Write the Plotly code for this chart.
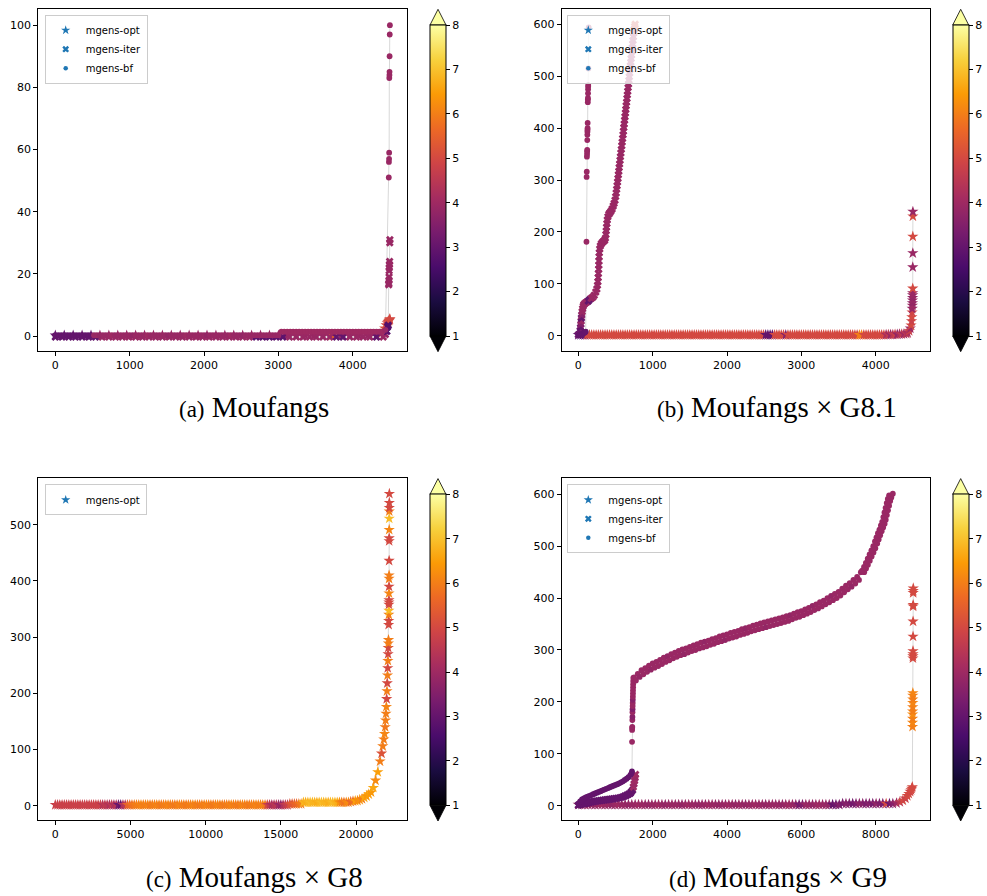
import plotly.graph_objects as go

W, H = 987, 896

# ---------------- data ----------------
series_names = ["mgens-opt", "mgens-iter", "mgens-bf"]
cbar_ticks = [1, 2, 3, 4, 5, 6, 7, 8]

# (a) Moufangs
a_opt_x = [0, 120, 240, 360, 480, 600, 720, 840, 960, 1080, 1200, 1320, 1440, 1560, 1680, 1800, 1920, 2040,
           2160, 2280, 2400, 2520, 2640, 2760, 2880, 3000, 3120, 3240, 3360, 3480, 3600, 3720, 3840, 3960,
           4080, 4200, 4320, 4380, 4410, 4430, 4450, 4465, 4475, 4485, 4492, 4497, 4500]
a_opt_y = [0.2, 0.2, 0.2, 0.2, 0.2, 0.2, 0.2, 0.2, 0.2, 0.2,
           0.2, 0.2, 0.2, 0.2, 0.2, 0.2, 0.2, 0.2, 0.2, 0.2,
           0.2, 0.2, 0.2, 0.2, 0.2, 0.2, 0.2, 0.2, 0.2, 0.2,
           0.2, 0.2, 0.2, 0.2, 0.2, 0.2, 0.2,
           0.8, 1.5, 2.5, 3.5, 4.2, 4.6, 4.9, 5.1, 5.3, 5.5]
a_opt_c = [3.0, 3.0, 3.0, 3.0, 3.0,
           3.9, 3.9, 3.9, 3.9, 3.9, 3.9, 3.9, 3.9, 3.9, 3.9,
           3.9, 3.9, 3.9, 3.9, 3.9, 3.9, 3.9, 3.9, 3.9, 3.9,
           3.9, 3.9, 3.9, 3.9, 3.9, 3.9,
           5.6,
           3.9, 3.9, 3.9, 3.9, 3.9,
           5.0, 5.0, 5.1, 5.0, 4.9, 5.0, 5.1, 5.0, 5.0, 5.0]

a_iter_x = [0, 90, 180, 270, 360, 450, 540, 630, 720, 810, 900, 990, 1080, 1170, 1260, 1350, 1440, 1530,
            1620, 1710, 1800, 1890, 1980, 2070, 2160, 2250, 2340, 2430, 2520, 2610, 2700, 2790, 2880, 2970,
            3060, 3150, 3240, 3330, 3420, 3510, 3600, 3690, 3780, 3870, 3960, 4050, 4140, 4230, 4320, 4410,
            4440, 4460, 4470, 4478, 4484, 4486, 4488, 4489, 4490, 4492, 4494, 4496, 4498, 4500]
a_iter_y = [-0.3, -0.3, -0.3, -0.3, -0.3, -0.3, -0.3, -0.3, -0.3, -0.3,
            -0.3, -0.3, -0.3, -0.3, -0.3, -0.3, -0.3, -0.3, -0.3, -0.3,
            -0.3, -0.3, -0.3, -0.3, -0.3, -0.3, -0.3, -0.3, -0.3, -0.3,
            -0.3, -0.3, -0.3, -0.3, -0.3, -0.3, -0.3, -0.3, -0.3, -0.3,
            -0.3, -0.3, -0.3, -0.3, -0.3, -0.3, -0.3, -0.3, -0.3, -0.3,
            0.5, 1.5, 3.0, 3.5, 16.5, 17, 18, 19, 21, 22, 23, 24, 30, 31]
a_iter_c = [3.0, 3.0, 3.0, 3.0, 3.0, 3.0, 3.0,
            3.9, 3.9, 3.9, 3.9, 3.9, 3.9, 3.9, 3.9, 3.9, 3.9,
            3.9, 3.9, 3.9, 3.9, 3.9, 3.9, 3.9, 3.9, 3.9, 3.9,
            3.9, 3.9, 3.9,
            2.9, 2.9, 2.9, 2.9, 2.9,
            3.9, 3.9, 3.9, 3.9, 3.9, 3.9, 3.9, 3.0, 3.0, 3.9, 3.9, 3.9, 3.9, 3.0, 3.9,
            3.9, 2.8, 2.7, 2.7, 3.9, 3.9, 3.9, 3.9, 3.9, 3.9, 3.9, 3.9, 3.9, 3.9]

a_bf_x = [0, 40, 80, 120, 160, 200, 240, 280, 320, 360, 400, 440, 480, 520, 560, 600, 640, 680, 720, 760,
          800, 840, 880, 920, 960, 1000, 1040, 1080, 1120, 1160, 1200, 1240, 1280, 1320, 1360, 1400, 1440,
          1480, 1520, 1560, 1600, 1640, 1680, 1720, 1760, 1800, 1840, 1880, 1920, 1960, 2000, 2040, 2080,
          2120, 2160, 2200, 2240, 2280, 2320, 2360, 2400, 2440, 2480, 2520, 2560, 2600, 2640, 2680, 2720,
          2760, 2800, 2840, 2880, 2920, 2960, 3000,
          3040, 3080, 3120, 3160, 3200, 3240, 3280, 3320, 3360, 3400, 3440, 3480, 3520, 3560, 3600, 3640,
          3680, 3720, 3760, 3800, 3840, 3880, 3920, 3960, 4000, 4040, 4080, 4120, 4160, 4200, 4240, 4280,
          4320, 4360, 4400, 4440,
          4485, 4487, 4489, 4490, 4492, 4494, 4495, 4496, 4498, 4500]
a_bf_y = [0.3, 0.3, 0.3, 0.3, 0.3, 0.3, 0.3, 0.3, 0.3, 0.3,
          0.3, 0.3, 0.3, 0.3, 0.3, 0.3, 0.3, 0.3, 0.3, 0.3,
          0.3, 0.3, 0.3, 0.3, 0.3, 0.3, 0.3, 0.3, 0.3, 0.3,
          0.3, 0.3, 0.3, 0.3, 0.3, 0.3, 0.3, 0.3, 0.3, 0.3,
          0.3, 0.3, 0.3, 0.3, 0.3, 0.3, 0.3, 0.3, 0.3, 0.3,
          0.3, 0.3, 0.3, 0.3, 0.3, 0.3, 0.3, 0.3, 0.3, 0.3,
          0.3, 0.3, 0.3, 0.3, 0.3, 0.3, 0.3, 0.3, 0.3, 0.3,
          0.3, 0.3, 0.3, 0.3, 0.3, 0.3,
          1.4, 1.4, 1.4, 1.4, 1.4, 1.4, 1.4, 1.4, 1.4, 1.4,
          1.4, 1.4, 1.4, 1.4, 1.4, 1.4, 1.4, 1.4, 1.4, 1.4,
          1.4, 1.4, 1.4, 1.4, 1.4, 1.4, 1.4, 1.4, 1.4, 1.4,
          1.4, 1.4, 1.4, 1.4, 1.4, 2.0,
          51, 56, 57, 59, 83, 84, 85, 90, 97, 100]
a_bf_c = [3.0, 3.0, 3.0, 3.0, 3.0, 3.0, 3.0, 3.0, 3.0, 3.0, 3.0, 3.0, 3.0,
          3.9, 3.9, 3.8, 3.9, 3.9, 3.9, 4.0, 3.9, 3.9, 3.9,
          3.9, 3.9, 3.9, 3.8, 3.9, 3.9, 3.9, 3.9, 4.0, 3.9,
          3.9, 3.9, 3.9, 3.9, 3.9, 3.8, 3.9, 3.9, 3.9, 3.9,
          3.9, 4.0, 3.9, 3.9, 3.9, 3.9, 3.9, 3.9, 3.8, 3.9,
          3.9, 3.9, 3.9, 3.9, 3.9, 3.9, 4.0, 3.9, 3.9, 3.9,
          3.8, 3.9, 3.9, 3.9, 3.9, 3.9, 3.9, 3.9, 3.9, 3.9,
          3.9, 3.9, 3.9,
          4.0, 4.0, 4.0, 4.0, 4.0, 4.0, 4.0, 4.0, 4.0, 4.0,
          4.0, 4.0, 4.0, 4.0, 4.0, 4.0, 4.0, 4.0, 4.0, 4.0,
          4.0, 4.0, 4.0, 4.0, 4.0, 4.0, 4.0, 4.0, 4.0, 4.0,
          4.0, 4.0, 4.0, 4.0, 4.0, 3.9,
          3.9, 3.9, 3.9, 3.9, 3.9, 3.9, 3.9, 3.9, 3.9, 3.9]

# (b) Moufangs x G8.1
b_opt_x = [0, 30, 60, 90, 120, 150, 180, 210, 240, 270,
           300, 330, 360, 390, 420, 450, 480, 510, 540, 570,
           600, 630, 660, 690, 720, 750, 780, 810, 840, 870,
           900, 930, 960, 990, 1020, 1050, 1080, 1110, 1140, 1170,
           1200, 1230, 1260, 1290, 1320, 1350, 1380, 1410, 1440, 1470,
           1500, 1530, 1560, 1590, 1620, 1650, 1680, 1710, 1740, 1770,
           1800, 1830, 1860, 1890, 1920, 1950, 1980, 2010, 2040, 2070,
           2100, 2130, 2160, 2190, 2220, 2250, 2280, 2310, 2340, 2370,
           2400, 2430, 2460, 2490, 2520, 2550, 2580, 2610, 2640, 2670,
           2700, 2730, 2760, 2790, 2820, 2850, 2880, 2910, 2940, 2970,
           3000, 3030, 3060, 3090, 3120, 3150, 3180, 3210, 3240, 3270,
           3300, 3330, 3360, 3390, 3420, 3450, 3480, 3510, 3540, 3570,
           3600, 3630, 3660, 3690, 3720, 3750, 3780, 3810, 3840, 3870,
           3900, 3930, 3960, 3990, 4020, 4050, 4080, 4110, 4140, 4170,
           4200, 4230, 4260, 4290, 4320, 4350, 4380, 4410,
           4430, 4450, 4465, 4475, 4482, 4486, 4489, 4491, 4493, 4494, 4495, 4496, 4497, 4497, 4498, 4498,
           4499, 4499, 4500, 4500]
b_opt_y = [1.5, 1.5, 1.5, 1.5, 1.5, 1.5, 1.5, 1.5, 1.5, 1.5,
           1.5, 1.5, 1.5, 1.5, 1.5, 1.5, 1.5, 1.5, 1.5, 1.5,
           1.5, 1.5, 1.5, 1.5, 1.5, 1.5, 1.5, 1.5, 1.5, 1.5,
           1.5, 1.5, 1.5, 1.5, 1.5, 1.5, 1.5, 1.5, 1.5, 1.5,
           1.5, 1.5, 1.5, 1.5, 1.5, 1.5, 1.5, 1.5, 1.5, 1.5,
           1.5, 1.5, 1.5, 1.5, 1.5, 1.5, 1.5, 1.5, 1.5, 1.5,
           1.5, 1.5, 1.5, 1.5, 1.5, 1.5, 1.5, 1.5, 1.5, 1.5,
           1.5, 1.5, 1.5, 1.5, 1.5, 1.5, 1.5, 1.5, 1.5, 1.5,
           1.5, 1.5, 1.5, 1.5, 1.5, 1.5, 1.5, 1.5, 1.5, 1.5,
           1.5, 1.5, 1.5, 1.5, 1.5, 1.5, 1.5, 1.5, 1.5, 1.5,
           1.5, 1.5, 1.5, 1.5, 1.5, 1.5, 1.5, 1.5, 1.5, 1.5,
           1.5, 1.5, 1.5, 1.5, 1.5, 1.5, 1.5, 1.5, 1.5, 1.5,
           1.5, 1.5, 1.5, 1.5, 1.5, 1.5, 1.5, 1.5, 1.5, 1.5,
           1.5, 1.5, 1.5, 1.5, 1.5, 1.5, 1.5, 1.5, 2, 2,
           2, 2, 2.5, 2.5, 3, 3, 3.5, 4,
           5, 9, 14, 20, 28, 36, 45, 52, 58, 63, 68, 73, 78, 82, 91, 132, 159, 191, 230, 239]
b_opt_c = [3.0, 3.0, 3.0, 3.0, 5.0, 5.0, 5.0, 5.0, 5.0, 5.0,
           5.0, 5.0, 5.0, 5.0, 5.0, 5.0, 5.0, 5.0, 5.0, 5.0,
           5.0, 5.0, 5.0, 5.0, 5.0, 5.0, 5.0, 5.0, 5.0, 5.0,
           5.0, 5.0, 5.0, 5.0, 5.0, 5.0, 5.0, 5.0, 5.0, 5.0,
           5.0, 5.0, 5.0, 5.0, 5.0, 5.0, 5.0, 5.0, 5.0, 5.0,
           5.0, 5.0, 5.0, 5.0, 5.0, 5.0, 5.0, 5.0, 5.0, 5.0,
           5.0, 5.0, 5.0, 5.0, 5.0, 5.0, 5.0, 5.0, 5.0, 5.0,
           5.0, 5.0, 5.0, 5.0, 5.0, 5.0, 5.0, 5.0, 5.0, 5.0,
           5.0, 5.0, 5.0, 5.0, 3.0, 3.0, 3.0, 3.0, 5.0, 5.0,
           5.0, 5.0, 5.0, 3.6, 5.0, 5.0, 5.0, 5.0, 5.0, 5.0,
           5.0, 5.0, 5.0, 5.0, 5.0, 5.0, 5.0, 5.0, 5.0, 5.0,
           5.0, 5.0, 5.0, 5.0, 5.0, 5.0, 5.0, 5.0, 5.0, 5.0,
           5.0, 5.0, 5.0, 5.0, 5.0, 5.0, 6.0, 6.0, 5.0, 5.0,
           5.0, 5.0, 5.0, 5.0, 5.0, 5.0, 5.0, 5.0, 4.2, 4.6,
           3.9, 4.5, 4.8, 3.8, 4.2, 4.6, 4.0, 4.5,
           4.2, 4.8, 4.0, 5.0, 4.8, 5.0, 4.9, 3.9, 4.0, 3.8, 3.9, 3.8, 3.9, 3.9, 5.0, 3.9, 3.9, 5.0, 5.0, 3.9]

b_iter_x = [0, 20, 25, 30, 35, 38, 42, 46, 52, 58, 66, 75, 95, 115, 135, 155, 175, 195, 215, 235, 250,
            258, 264, 268, 271, 274, 276, 278, 280, 283, 288, 297, 310, 325, 340, 355, 365, 372, 376, 380,
            385, 390, 398, 410, 425, 440, 455, 470, 482, 494, 503, 510, 516, 522, 528, 534, 539, 545, 550,
            556, 562, 567, 573, 579, 585, 590, 596, 602, 607, 612, 618, 623, 628, 634, 639, 644, 650, 655,
            660, 665, 670, 676, 681, 686, 691, 696, 701, 706, 711, 716, 721, 726, 731, 736, 741, 746, 751,
            757, 765]
b_iter_y = [2, 4, 10, 16, 22, 28, 34, 40, 46, 52, 57, 60, 63, 65, 67, 70, 72, 74, 78, 84, 90, 97, 104,
            112, 120, 128, 136, 144, 152, 160, 167, 173, 177, 180, 182, 184, 188, 195, 202, 209, 216, 223,
            229, 234, 237, 240, 244, 250, 255, 261, 268, 275, 282, 289, 296, 303, 310, 317, 324, 331, 338,
            345, 352, 359, 366, 373, 380, 387, 394, 401, 408, 415, 422, 429, 436, 443, 450, 457, 464, 471,
            478, 485, 492, 499, 506, 513, 520, 527, 534, 541, 548, 555, 562, 569, 576, 583, 590, 596, 600]
b_iter_c = [3.2, 3.0, 3.3, 3.0, 3.5, 3.9, 3.0, 3.6, 3.9, 3.9, 3.9,
            3.9, 3.9, 3.9,
            3.0, 3.0,
            3.9, 3.9, 3.9, 3.9, 3.9, 3.9, 3.9, 3.9, 3.9, 3.9,
            3.9, 3.9, 3.9, 3.9, 3.9, 3.9, 3.9, 3.9, 3.9, 3.9,
            3.9, 3.9, 3.9, 3.9, 3.9, 3.9, 3.9, 3.9, 3.9, 3.9,
            3.9, 3.9, 3.9, 3.9, 3.9, 3.9, 3.9, 3.9, 3.9, 3.9,
            3.9, 3.9, 3.9, 3.9, 3.9, 3.9, 3.9, 3.9, 3.9, 3.9,
            3.9, 3.9, 3.9, 3.9, 3.9, 3.9, 3.9, 3.9, 3.9, 3.9,
            3.9, 3.9, 3.9, 3.9, 3.9, 3.9, 3.9, 3.9, 3.9, 3.9,
            3.9, 3.9, 3.9, 3.9, 3.9, 3.9, 3.9, 3.9, 3.9, 3.9,
            3.9,
            5.0, 5.0]

b_bf_x = [0, 15, 30, 45, 60, 75, 90, 100, 110, 112, 114, 116, 118, 119, 120, 121, 122, 123, 124, 125,
          126, 128, 129, 130, 131, 132, 133, 134, 136, 140]
b_bf_y = [1, 2, 3, 3, 4, 5, 6, 8, 181, 306, 316, 345, 350, 355, 358, 377, 387, 393, 397, 400, 410, 450,
          455, 458, 467, 475, 480, 483, 515, 594]
b_bf_c = [3.0, 3.0, 3.0, 3.0, 3.0, 3.0, 3.0, 3.0,
          3.9, 3.9, 3.9, 3.9, 3.9, 3.9, 3.9, 3.9, 3.9, 3.9, 3.9,
          3.9, 3.9, 3.9, 3.9, 3.9, 3.9, 3.9, 3.9, 3.9, 3.9, 3.9]

# (c) Moufangs x G8
c_opt_x = [0, 150, 300, 450, 600, 750, 900, 1050, 1200, 1350,
           1500, 1650, 1800, 1950, 2100, 2250, 2400, 2550, 2700, 2850,
           3000, 3150, 3300, 3450, 3600, 3750, 3900, 4050, 4200, 4350,
           4500, 4650, 4800, 4950, 5100, 5250, 5400, 5550, 5700, 5850,
           6000, 6150, 6300, 6450, 6600, 6750, 6900, 7050, 7200, 7350,
           7500, 7650, 7800, 7950, 8100, 8250, 8400, 8550, 8700, 8850,
           9000, 9150, 9300, 9450, 9600, 9750, 9900, 10050, 10200, 10350,
           10500, 10650, 10800, 10950, 11100, 11250, 11400, 11550, 11700, 11850,
           12000, 12150, 12300, 12450, 12600, 12750, 12900, 13050, 13200, 13350,
           13500, 13650, 13800, 13950, 14100, 14250, 14400, 14550, 14700, 14850,
           15000, 15150, 15300, 15450, 15600, 15750, 15900, 16050, 16200, 16350,
           16500, 16650, 16800, 16950, 17100, 17250, 17400, 17550, 17700, 17850,
           18000, 18150, 18300, 18450, 18600, 18750, 18900, 19050, 19200, 19350,
           19500, 19650, 19800, 19950, 20100, 20250, 20400, 20550, 20700, 20850,
           21000,
           21150, 21300, 21450, 21600, 21700, 21780, 21850, 21900, 21940, 21970, 21995, 22020, 22040,
           22060, 22078, 22095, 22110, 22122, 22134, 22145, 22155, 22162,
           22170, 22175, 22180, 22185, 22188, 22190, 22192, 22195, 22197, 22199, 22201, 22203, 22205,
           22207, 22209, 22211, 22213, 22215, 22217, 22219]
c_opt_y = [1.5, 1.5, 1.5, 1.5, 1.5, 1.5, 1.5, 1.5, 1.5, 1.5,
           1.5, 1.5, 1.5, 1.5, 1.5, 1.5, 1.5, 1.5, 1.5, 1.5,
           1.5, 1.5, 1.5, 1.5, 1.5, 1.5, 1.5, 1.5, 1.5, 1.5,
           1.5, 1.5, 1.5, 1.5, 1.5, 1.5, 1.5, 1.5, 1.5, 1.5,
           1.5, 1.5, 1.5, 1.5, 1.5, 1.5, 1.5, 1.5, 1.5, 1.5,
           1.5, 1.5, 1.5, 1.5, 1.5, 1.5, 1.5, 1.5, 1.5, 1.5,
           1.5, 1.5, 1.5, 1.5, 1.5, 1.5, 1.5, 1.5, 1.5, 1.5,
           1.5, 1.5, 1.5, 1.5, 1.5, 1.5, 1.5, 1.5, 1.5, 1.5,
           1.5, 1.5, 1.5, 1.5, 1.5, 1.5, 1.5, 1.5, 1.5, 1.5,
           1.5, 1.5, 1.5, 1.5, 1.5, 1.5, 1.5, 1.5, 1.5, 1.5,
           1.5, 1.5, 1.5, 1.5, 3, 3, 3, 3, 3, 3,
           6, 6, 6, 6, 6, 6, 6, 6, 6, 6,
           6, 6, 6, 6, 6, 6, 6, 6, 6, 6,
           6, 7, 8, 8.5, 9, 10.5, 12, 14.5, 17, 20.5,
           24,
           32, 45, 60, 79, 93, 106, 118, 128, 140, 152, 164, 176, 190, 204, 218, 232, 245, 258, 270, 281,
           289, 295,
           322, 329, 340, 347, 358, 362, 366, 378, 390, 404, 410, 436, 471, 476, 491, 511, 524, 530, 539,
           555]
c_opt_c = [4.8, 4.8, 4.8, 4.8, 4.8, 4.8, 4.8, 4.8, 4.8, 4.8,
           4.8, 4.8, 4.8, 4.8, 4.8, 4.8, 4.8, 4.8, 4.8, 4.8,
           4.8, 4.4, 4.6, 4.5, 4.3, 4.6, 4.2, 4.4, 3.2, 3.0,
           4.3, 4.5, 5.5, 5.6, 5.8, 5.9, 6.0, 6.0, 6.1, 6.0,
           6.0, 6.1, 5.9, 6.0, 6.0, 6.1, 6.0, 5.9, 6.0, 6.0,
           6.1, 6.0, 6.0, 5.9, 6.0, 6.1, 6.0, 6.0, 5.9, 6.0,
           6.0, 6.1, 6.0, 6.0, 5.9, 6.0, 6.0, 6.1, 6.0, 6.0,
           5.9, 6.0, 6.1, 6.0, 6.0, 5.9, 6.0, 6.0, 6.1, 6.0,
           6.0, 5.9, 6.0, 6.1, 6.0, 6.0, 5.9, 6.0, 6.0, 6.1,
           6.0, 6.0, 6.1, 5.9, 5.0, 4.6, 4.2, 4.4, 4.5, 4.0,
           3.8, 4.3, 4.6, 4.8, 5.2, 5.3, 5.5, 5.6, 5.8, 6.0,
           6.8, 6.7, 6.8, 6.9, 6.8, 6.8, 6.7, 6.8, 6.9, 6.8,
           6.8, 6.7, 6.8, 6.9, 6.8, 6.7, 6.3, 6.0, 5.8, 6.1,
           6.2, 5.6, 5.8, 6.5, 6.2, 6.3, 6.0, 6.6, 6.4, 6.5,
           6.4,
           6.6, 6.2, 6.5, 6.0, 5.2, 6.0, 6.0, 6.1, 5.9, 6.0, 6.0, 6.1, 5.0, 6.0, 5.0, 6.0, 5.0, 6.0, 5.0,
           5.0, 6.0, 6.0,
           5.0, 5.0, 6.0, 6.9, 5.0, 5.0, 5.0, 6.1, 5.0, 6.0, 6.0, 5.0, 5.0, 5.0, 6.1, 6.9, 6.0, 5.0, 5.0,
           5.0]

# (d) Moufangs x G9
d_opt_x = [0, 90, 180, 270, 360, 450, 540, 630, 720, 810,
           900, 990, 1080, 1170, 1260, 1350, 1440, 1530, 1620, 1710,
           1800, 1890, 1980, 2070, 2160, 2250, 2340, 2430, 2520, 2610,
           2700, 2790, 2880, 2970, 3060, 3150, 3240, 3330, 3420, 3510,
           3600, 3690, 3780, 3870, 3960, 4050, 4140, 4230, 4320, 4410,
           4500, 4590, 4680, 4770, 4860, 4950, 5040, 5130, 5220, 5310,
           5400, 5490, 5580, 5670, 5760, 5850, 5940, 6030, 6120, 6210,
           6300, 6390, 6480, 6570, 6660, 6750, 6840, 6930, 7020, 7110,
           7200, 7290, 7380, 7470, 7560, 7650, 7740, 7830, 7920, 8010,
           8100, 8190, 8280, 8370, 8460,
           8560, 8650, 8730, 8800, 8850, 8890, 8925, 8950, 8970, 8985,
           8990, 8991, 8992, 8993, 8994, 8995, 8996, 8997, 8998, 8999, 9000, 9001, 9002, 9003, 9004,
           9005, 9006, 9007, 9008, 9009, 9010]
d_opt_y = [2, 2, 2, 2, 2, 2, 2, 2, 2, 2,
           2, 2, 2, 2, 2, 2, 2, 2, 2, 2,
           2, 2, 2, 2, 2, 2, 2, 2, 2, 2,
           2, 2, 2, 2, 2, 2, 2, 2, 2, 2,
           2, 2, 2, 2, 2, 2, 2, 2, 2, 2,
           2, 2, 2, 2, 2, 2, 2, 2, 2, 2,
           2, 2, 2, 2, 2, 2, 2, 2, 2, 2,
           2, 2, 2, 2, 2, 2, 2, 2, 2, 4,
           4, 4, 4, 4, 4, 4, 4, 4, 4, 4,
           4, 4, 4, 4, 4,
           5, 7, 10, 14, 19, 23, 27, 30, 33, 36,
           152, 160, 168, 176, 182, 190, 198, 205, 212, 217, 284, 288, 292, 298, 326, 355, 384, 387, 410,
           414, 419]
d_opt_c = [3.9, 3.8, 4.0, 3.9, 3.9, 3.8, 3.9, 4.0, 3.9, 3.9,
           3.8, 3.9, 4.0, 3.9, 3.9, 3.8, 3.9, 3.9, 4.0, 3.9,
           3.9, 3.8, 3.9, 3.9, 4.0, 3.9, 3.8, 3.9, 3.9, 3.9,
           3.9, 3.8, 3.9, 4.0, 3.9, 3.9, 3.8, 3.9, 3.9, 4.0,
           3.9, 3.9, 3.8, 3.9, 3.9, 4.0, 3.9, 3.8, 3.9, 3.9,
           3.8, 3.9, 3.9, 4.0, 3.9, 3.9, 3.8, 3.9, 3.9, 3.9,
           3.9, 3.8, 3.9, 4.0, 3.9, 3.8, 3.3, 3.5, 3.9, 3.9,
           3.8, 3.9, 4.0, 3.9, 3.9, 3.8, 3.0, 3.2, 3.5, 3.3,
           3.6, 3.5, 3.2, 3.4, 3.7, 3.6, 3.4, 3.6, 3.3, 3.8,
           3.5, 3.4, 5.0, 3.2, 3.6,
           4.0, 4.5, 5.0, 4.8, 5.0, 5.0, 4.9, 5.0, 5.0, 5.0,
           6.0, 6.1, 6.0, 6.2, 6.0, 6.0, 6.1, 6.0, 6.0, 6.1, 5.0, 5.0, 5.0, 5.0, 5.0, 5.0, 5.0, 5.0, 5.0,
           5.0, 5.0]

d_iter_x = [0, 50, 100, 150, 200, 250, 300, 350, 400, 450, 500, 550, 600, 650, 700, 750, 800, 850, 900,
            950, 1000, 1050, 1100, 1150, 1200, 1250, 1300, 1350, 1400, 1430, 1462,
            1480, 1500, 1515, 1530, 1540]
d_iter_y = [1, 2, 3, 3.5, 4, 5, 6, 7, 8, 8.5, 9, 9.5, 10, 10.5, 11, 11.5, 12, 12.5, 13,
            13.5, 14, 14.5, 15, 16, 17, 18.5, 20, 22, 24, 27, 30,
            36, 42, 48, 54, 60]
d_iter_c = [3.0, 3.0, 3.0, 3.0, 3.0, 3.0, 3.0, 3.0, 3.0, 3.0, 3.0, 3.0, 3.0, 3.0, 3.0, 3.0, 3.0, 3.0, 3.0,
            3.0, 3.0, 3.0, 3.0, 3.0, 3.0, 3.0, 3.0, 3.0, 3.0, 3.0, 3.0,
            4.0, 3.9, 4.0, 3.9, 4.0]

d_bf_x = [0, 50, 100, 150, 200, 250, 300, 350, 400, 450, 500, 550, 600, 650, 700, 750, 800, 850, 900,
          950, 1000, 1050, 1100, 1150, 1200, 1250, 1300, 1350, 1400, 1430, 1444,
          1446, 1448, 1450, 1452, 1454, 1456, 1458, 1460, 1462, 1464, 1466, 1468, 1470, 1472, 1474, 1476,
          1478, 1480,
          1500, 1550, 1600, 1650, 1700, 1750, 1800, 1850, 1900, 1950,
          2000, 2050, 2100, 2150, 2200, 2250, 2300, 2350, 2400, 2450,
          2500, 2550, 2600, 2650, 2700, 2750, 2800, 2850, 2900, 2950,
          3000, 3050, 3100, 3150, 3200, 3250, 3300, 3350, 3400, 3450,
          3500, 3550, 3600, 3650, 3700, 3750, 3800, 3850, 3900, 3950,
          4000, 4050, 4100, 4150, 4200, 4250, 4300, 4350, 4400, 4450,
          4500, 4550, 4600, 4650, 4700, 4750, 4800, 4850, 4900, 4950,
          5000, 5050, 5100, 5150, 5200, 5250, 5300, 5350, 5400, 5450,
          5500, 5550, 5600, 5650, 5700, 5750, 5800, 5850, 5900, 5950,
          6000, 6050, 6100, 6150, 6200, 6250, 6300, 6350, 6400, 6450,
          6500, 6550, 6600, 6650, 6700, 6750, 6800, 6850, 6900, 6950,
          7000, 7050, 7100, 7150, 7200, 7250, 7300, 7350, 7400, 7450,
          7500, 7550, 7600,
          7690, 7635, 7740, 7685, 7790, 7735, 7840, 7785, 7890, 7835, 7940, 7885, 7990, 7935, 8040, 7980,
          8080, 8020, 8120, 8060, 8160, 8100, 8200, 8140, 8240, 8175, 8270, 8205, 8300, 8235, 8330, 8265,
          8360, 8295, 8390, 8325, 8420, 8360, 8460]
d_bf_y = [4, 8, 12, 14, 16, 17.5, 19, 20.5, 22, 23.5, 25, 26.5, 28, 29.5, 31, 32.5, 34, 35.5, 37,
          38.5, 40, 41.5, 43, 45, 47, 49.5, 52, 55, 59, 62, 66,
          123, 146, 150, 152, 165, 171, 180, 186, 192, 198, 204, 210, 216, 222, 228, 234, 240, 246,
          247, 241, 254, 248, 261, 253, 265, 258, 270, 262, 274, 266, 277, 269, 281, 273,
          285, 277, 288, 280, 292, 284, 295, 287, 298, 290, 301, 292, 303, 295, 306, 298,
          309, 300, 311, 303, 314, 305, 316, 307, 318, 310, 321, 312, 323, 315, 326, 317,
          328, 319, 330, 322, 333, 324, 335, 326, 337, 329, 340, 331, 342, 333, 344, 336,
          347, 338, 349, 340, 351, 342, 353, 344, 355, 346, 357, 348, 359, 350, 361, 352,
          363, 354, 365, 356, 367, 359, 370, 362, 373, 364, 375, 367, 378, 370, 381, 373,
          385, 377, 388, 380, 392, 384, 395, 388, 400, 392, 404, 396, 408, 400, 412, 405,
          418, 411, 424, 417, 429, 422, 435, 428, 441, 435, 450,
          450, 453, 457, 460, 464, 468, 472, 476, 480, 484, 488, 492, 496, 500, 505, 509,
          513, 517, 521, 525, 529, 532, 536, 540, 543, 547, 551, 556, 560, 565, 569, 574,
          578, 583, 587, 591, 594, 598, 601]
d_bf_c = [3.0, 3.0, 3.0, 3.0, 3.0, 3.0, 3.0, 3.0, 3.0, 3.0, 3.0, 3.0, 3.0, 3.0, 3.0, 3.0, 3.0, 3.0, 3.0,
          3.0, 3.0, 3.0, 3.0, 3.0, 3.0, 3.0, 3.0, 3.0, 3.0, 3.0, 3.0,
          3.9, 3.9, 3.9, 3.9, 3.9, 3.6, 3.9, 3.5, 3.9, 3.9, 3.6, 3.9, 3.9, 3.9, 3.9, 3.9, 3.9, 3.9,
          3.9, 3.9, 3.9, 3.8, 3.9, 3.9, 3.9, 3.9, 3.9, 3.8, 3.9, 3.9, 3.9, 3.9, 3.9, 3.9,
          3.9, 3.9, 3.8, 3.9, 3.9, 3.9, 3.9, 3.9, 3.9, 3.9, 3.9, 3.8, 3.9, 3.9, 3.9, 3.9,
          3.9, 3.9, 3.9, 3.9, 3.9, 3.9, 3.8, 3.9, 3.9, 3.9, 3.9, 3.9, 3.9, 3.9, 3.9, 3.9,
          3.9, 3.8, 3.9, 3.9, 3.9, 3.9, 3.9, 3.9, 3.9, 3.9, 3.9, 3.9, 3.8, 3.9, 3.9, 3.9,
          3.9, 3.9, 3.9, 3.9, 3.9, 3.9, 3.9, 3.8, 3.9, 3.9, 3.9, 3.9, 3.9, 3.9, 3.9, 3.9,
          3.9, 3.9, 3.9, 3.9, 3.8, 3.9, 3.9, 3.9, 3.9, 3.9, 3.9, 3.9, 3.9, 3.9, 3.9, 3.9,
          3.8, 3.9, 3.9, 3.9, 3.9, 3.9, 3.9, 3.9, 3.9, 3.9, 3.8, 3.9, 3.9, 3.9, 3.9, 3.9,
          3.9, 3.9, 3.9, 3.9, 3.9, 3.8, 3.9, 3.9, 3.9, 3.9, 3.9,
          3.9, 3.9, 3.9, 3.9, 3.9, 3.9, 3.9, 3.9, 3.9, 3.9, 3.9, 3.9, 3.9, 3.9, 3.9, 3.9,
          3.9, 3.9, 3.9, 3.9, 3.9, 3.9, 3.9, 3.9, 3.9, 3.9, 3.9, 3.9, 3.9, 3.9, 3.9, 3.9,
          3.9, 3.9, 3.9, 3.9, 3.9, 3.9, 3.9]

# ticks
a_xticks = [0, 1000, 2000, 3000, 4000]
a_xlabels = ["0", "1000", "2000", "3000", "4000"]
a_yticks = [0, 20, 40, 60, 80, 100]
b_yticks = [0, 100, 200, 300, 400, 500, 600]
c_xticks = [0, 5000, 10000, 15000, 20000]
c_xlabels = ["0", "5000", "10000", "15000", "20000"]
c_yticks = [0, 100, 200, 300, 400, 500]
d_xticks = [0, 2000, 4000, 6000, 8000]
d_xlabels = ["0", "2000", "4000", "6000", "8000"]

captions = [("(a)", "Moufangs"), ("(b)", "Moufangs × G8.1"),
            ("(c)", "Moufangs × G8"), ("(d)", "Moufangs × G9")]

for xs, ys, cs in [(a_opt_x, a_opt_y, a_opt_c), (a_iter_x, a_iter_y, a_iter_c), (a_bf_x, a_bf_y, a_bf_c),
                   (b_opt_x, b_opt_y, b_opt_c), (b_iter_x, b_iter_y, b_iter_c), (b_bf_x, b_bf_y, b_bf_c),
                   (c_opt_x, c_opt_y, c_opt_c), (d_opt_x, d_opt_y, d_opt_c), (d_iter_x, d_iter_y, d_iter_c),
                   (d_bf_x, d_bf_y, d_bf_c)]:
    assert len(xs) == len(ys) == len(cs), (len(xs), len(ys), len(cs))

# ---------------- figure ----------------
def PX(p):
    return p / W


def PY(p):
    return 1 - p / H


SYM = {"mgens-opt": ("star", 8.5), "mgens-iter": ("x", 7), "mgens-bf": ("circle", 5.8)}
LEG_SYM = {"mgens-opt": ("star", 7), "mgens-iter": ("x", 6), "mgens-bf": ("circle", 4.5)}
GRAY = "#d8d8d8"

panels = [
    dict(ax="", cax="coloraxis", leg="legend",
         series=[("mgens-opt", a_opt_x, a_opt_y, a_opt_c), ("mgens-iter", a_iter_x, a_iter_y, a_iter_c),
                 ("mgens-bf", a_bf_x, a_bf_y, a_bf_c)],
         legend_names=series_names),
    dict(ax="2", cax="coloraxis2", leg="legend2",
         series=[("mgens-opt", b_opt_x, b_opt_y, b_opt_c), ("mgens-iter", b_iter_x, b_iter_y, b_iter_c),
                 ("mgens-bf", b_bf_x, b_bf_y, b_bf_c)],
         legend_names=series_names),
    dict(ax="3", cax="coloraxis3", leg="legend3",
         series=[("mgens-opt", c_opt_x, c_opt_y, c_opt_c)],
         legend_names=series_names[:1]),
    dict(ax="4", cax="coloraxis4", leg="legend4",
         series=[("mgens-opt", d_opt_x, d_opt_y, d_opt_c), ("mgens-iter", d_iter_x, d_iter_y, d_iter_c),
                 ("mgens-bf", d_bf_x, d_bf_y, d_bf_c)],
         legend_names=series_names),
]

fig = go.Figure()
for p in panels:
    xa, ya = "x" + p["ax"], "y" + p["ax"]
    for name, xs, ys, cs in p["series"]:
        fig.add_trace(go.Scatter(x=xs, y=ys, mode="lines", line=dict(color=GRAY, width=1),
                                 xaxis=xa, yaxis=ya, showlegend=False, hoverinfo="skip"))
    for name, xs, ys, cs in p["series"]:
        sym, sz = SYM[name]
        fig.add_trace(go.Scatter(x=xs, y=ys, mode="markers", name=name,
                                 marker=dict(symbol=sym, size=sz, color=cs, coloraxis=p["cax"],
                                             line=dict(width=0)),
                                 xaxis=xa, yaxis=ya, showlegend=False))
    for name in p["legend_names"]:
        sym, sz = LEG_SYM[name]
        fig.add_trace(go.Scatter(x=[None], y=[None], mode="markers", name=name,
                                 marker=dict(symbol=sym, size=sz, color="#1f77b4", line=dict(width=0)),
                                 xaxis=xa, yaxis=ya, legend=p["leg"], showlegend=True))

TICKFONT = dict(family="DejaVu Sans", size=11, color="black")
axis_common = dict(showline=True, linecolor="black", linewidth=1, mirror=True, ticks="outside",
                   ticklen=4, tickwidth=1, tickcolor="black", showgrid=False, zeroline=False,
                   tickfont=TICKFONT)

xl = [PX(38.3), PX(406.7)]
xr = [PX(561.7), PX(930)]
yt = [PY(351), PY(9)]
yb = [PY(820), PY(478.3)]

layout = dict(
    width=W, height=H, margin=dict(l=0, r=0, t=0, b=0, pad=0, autoexpand=False),
    plot_bgcolor="white", paper_bgcolor="white",
    xaxis=dict(domain=xl, anchor="y", range=[-229, 4726], tickvals=a_xticks, ticktext=a_xlabels, **axis_common),
    yaxis=dict(domain=yt, anchor="x", range=[-4.8, 105.2], tickvals=a_yticks, **axis_common),
    xaxis2=dict(domain=xr, anchor="y2", range=[-223, 4730], tickvals=a_xticks, ticktext=a_xlabels, **axis_common),
    yaxis2=dict(domain=yt, anchor="x2", range=[-29.5, 629.5], tickvals=b_yticks, **axis_common),
    xaxis3=dict(domain=xl, anchor="y3", range=[-1131, 23372], tickvals=c_xticks, ticktext=c_xlabels, **axis_common),
    yaxis3=dict(domain=yb, anchor="x3", range=[-25.4, 582.6], tickvals=c_yticks, **axis_common),
    xaxis4=dict(domain=xr, anchor="y4", range=[-446, 9460], tickvals=d_xticks, ticktext=d_xlabels, **axis_common),
    yaxis4=dict(domain=yb, anchor="x4", range=[-27.6, 630.8], tickvals=b_yticks, **axis_common),
)

# colour axes + colorbars
cb_pos = {"coloraxis": (430, 25), "coloraxis2": (952.7, 25), "coloraxis3": (430, 494.3),
          "coloraxis4": (952.7, 494.3)}
CB_LEN = 311
CB_TH = 16
for cax, (cx, cy) in cb_pos.items():
    layout[cax] = dict(colorscale="Inferno", cmin=1, cmax=8,
                       colorbar=dict(x=PX(cx), xanchor="left", y=PY(cy), yanchor="top",
                                     len=CB_LEN, lenmode="pixels", thickness=CB_TH, thicknessmode="pixels",
                                     xpad=0, ypad=0, outlinewidth=1, outlinecolor="black",
                                     ticks="outside", ticklen=4, tickwidth=1, tickcolor="black",
                                     tickvals=cbar_ticks, tickfont=TICKFONT))

# extend triangles of colorbars
shapes = []
for cax, (cx, cy) in cb_pos.items():
    x0, x1, xm = cx, cx + CB_TH, cx + CB_TH / 2
    ytop, ybot = cy, cy + CB_LEN
    shapes.append(dict(type="path", xref="paper", yref="paper",
                       path=f"M {PX(x0)},{PY(ytop)} L {PX(x1)},{PY(ytop)} L {PX(xm)},{PY(ytop - 15.7)} Z",
                       fillcolor="#fcffa4", line=dict(color="black", width=0.8)))
    shapes.append(dict(type="path", xref="paper", yref="paper",
                       path=f"M {PX(x0)},{PY(ybot)} L {PX(x1)},{PY(ybot)} L {PX(xm)},{PY(ybot + 15.7)} Z",
                       fillcolor="#000004", line=dict(color="black", width=0.8)))
layout["shapes"] = shapes

# legends
leg_common = dict(xanchor="left", yanchor="top", bgcolor="rgba(255,255,255,0.8)", bordercolor="#cccccc",
                  borderwidth=1, font=dict(family="DejaVu Sans", size=10, color="black"),
                  tracegroupgap=0, itemclick=False)
layout["legend"] = dict(x=PX(44.7), y=PY(14.7), **leg_common)
layout["legend2"] = dict(x=PX(567.3), y=PY(14.7), **leg_common)
layout["legend3"] = dict(x=PX(44.7), y=PY(484.3), **leg_common)
layout["legend4"] = dict(x=PX(567.3), y=PY(484.3), **leg_common)

# captions
cap_pos = [(254, 407), (777, 407), (254, 877), (777.5, 877)]
annotations = []
for (lab, txt), (cx, cy) in zip(captions, cap_pos):
    annotations.append(dict(text=f"<span style='font-size:23px'>{lab}</span> {txt}", x=PX(cx), y=PY(cy),
                            xref="paper", yref="paper", xanchor="center", yanchor="middle", showarrow=False,
                            font=dict(family="Liberation Serif", size=29, color="black")))
layout["annotations"] = annotations

fig.update_layout(**layout)
# the page body has a default 8px margin; remove it so the figure sits at the window's top-left corner
fig.write_html("out.html", config={"displayModeBar": False},
               post_script="document.body.style.margin='0px';")
